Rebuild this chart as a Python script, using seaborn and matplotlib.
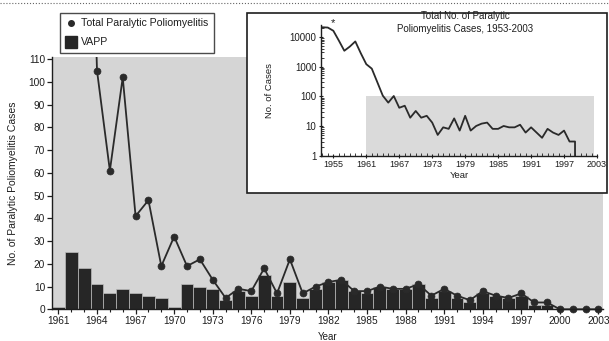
import numpy as np
import pandas as pd
import matplotlib
matplotlib.use("Agg")
import matplotlib.pyplot as plt
import seaborn as sns
from matplotlib.lines import Line2D
from matplotlib.patches import Rectangle
from matplotlib.transforms import Bbox, TransformedBbox
from matplotlib.ticker import MultipleLocator, LogLocator, NullFormatter, FixedLocator, FixedFormatter

# ---------------- data ----------------
years = list(range(1961, 2004))
total_cases = [1200, 850, 300, 105, 61, 102, 41, 48, 19, 32,
               19, 22, 13, 5, 9, 8, 18, 7, 22, 7,
               10, 12, 13, 8, 8, 10, 9, 9, 11, 6,
               9, 6, 4, 8, 6, 5, 7, 3, 3, 0,
               0, 0, 0]
vapp_cases = [1, 25, 18, 11, 7, 9, 7, 6, 5, 1,
              11, 10, 9, 4, 8, 6, 15, 6, 12, 5,
              9, 12, 13, 8, 7, 10, 9, 9, 11, 5,
              8, 5, 3, 7, 6, 5, 6, 2, 2, 0,
              0, 0, 0]
early_years = list(range(1953, 1961))
early_cases = [21000, 20500, 16000, 7500, 3400, 4700, 7000, 2800]

main_xticks = list(range(1961, 2004, 3))
main_yticks = list(range(0, 111, 10))
inset_xticks = list(range(1955, 2004, 6))
inset_yticks = [1, 10, 100, 1000, 10000]
inset_ytick_labels = ["1", "10", "100", "1000", "10000"]

legend_labels = ["Total Paralytic Poliomyelitis", "VAPP"]
inset_title = "Total No. of Paralytic\nPoliomyelitis Cases, 1953-2003"

# ---------------- style ----------------
sns.set_theme(style="ticks")
plt.rcParams['font.family'] = ['Liberation Sans', 'DejaVu Sans']
plt.rcParams['text.color'] = '#1e1e1e'
plt.rcParams['axes.labelcolor'] = '#1e1e1e'
plt.rcParams['xtick.color'] = '#1e1e1e'
plt.rcParams['ytick.color'] = '#1e1e1e'

W, H = 609, 341
fig = plt.figure(figsize=(W / 100, H / 100), dpi=100)
fig.patch.set_facecolor('white')

dark = '#262626'
bg_gray = '#d5d5d5'

# ---------------- main axes ----------------
ax = fig.add_axes([52 / W, (H - 309.3) / H, (603 - 52) / W, 252.3 / H])
ax.set_zorder(0)
ax.set_facecolor(bg_gray)

df = pd.DataFrame({'year': years, 'total': total_cases, 'vapp': vapp_cases})
sns.barplot(data=df, x='year', y='vapp', native_scale=True, width=1.0,
            color=dark, saturation=1, edgecolor='#bdbdbd', linewidth=0.5,
            errorbar=None, ax=ax)
sns.lineplot(data=df, x='year', y='total', color='#2a2a2a', linewidth=1.3,
             marker='o', markersize=5, markeredgecolor='#2a2a2a',
             markeredgewidth=0.5, estimator=None, ax=ax)

clip = TransformedBbox(Bbox([[0, -0.03], [1, 1]]), ax.transAxes)
for ln in ax.lines:
    ln.set_clip_box(clip)

ax.set_xlim(1960.5, 2003.35)
ax.set_ylim(0, 111)
ax.set_xticks(main_xticks)
ax.set_xticklabels([str(y) for y in main_xticks])
ax.xaxis.set_minor_locator(MultipleLocator(1))
ax.set_yticks(main_yticks)
ax.tick_params(axis='both', which='major', labelsize=7.3, length=3.5, width=0.9,
               direction='out', pad=1.5)
ax.tick_params(axis='x', which='minor', length=2.5, width=0.8, direction='out')
for s in ['top', 'right']:
    ax.spines[s].set_visible(False)
for s in ['left', 'bottom']:
    ax.spines[s].set_linewidth(1.0)
    ax.spines[s].set_color('#1e1e1e')
ax.set_xlabel('Year', fontsize=7)
ax.set_ylabel('No. of Paralytic Poliomyelitis Cases', fontsize=7.5)
ax.xaxis.set_label_coords(0.5, -0.088)
ax.yaxis.set_label_coords(-0.062, 0.5)

# legend
handles = [Line2D([], [], marker='o', linestyle='none', color='#2a2a2a', markersize=4),
           Line2D([], [], marker='s', linestyle='none', color=dark, markersize=9)]
leg = fig.legend(handles, legend_labels, loc='upper left',
                 bbox_to_anchor=(60 / W, 1 - 12.5 / H), fontsize=7.6,
                 frameon=True, fancybox=False, edgecolor='#1e1e1e',
                 handlelength=1.0, handletextpad=0.45, borderpad=0.55,
                 labelspacing=0.85, borderaxespad=0)
leg.get_frame().set_linewidth(1.0)
leg.set_zorder(6)

# top dotted scan border
fig.add_artist(Line2D([0, 1], [1 - 3 / H, 1 - 3 / H], transform=fig.transFigure,
                      color='#666666', linestyle=':', linewidth=0.8))

# ---------------- inset ----------------
fig.add_artist(Rectangle((247 / W, 1 - 193 / H), (607 - 247) / W, (193 - 13) / H,
                         transform=fig.transFigure, facecolor='white',
                         edgecolor='#1e1e1e', linewidth=1.2, zorder=1))

ax2 = fig.add_axes([320.7 / W, (H - 155.7) / H, (597 - 320.7) / W, 130.7 / H])
ax2.set_zorder(3)
ax2.set_facecolor('none')

df_in = pd.DataFrame({'year': early_years + years, 'total': early_cases + total_cases})
ax2.fill_between([1961, 2002.5], 1, 100, color='#dadada', linewidth=0, zorder=0)
sns.lineplot(data=df_in, x='year', y='total', color='#2a2a2a', linewidth=1.3,
             estimator=None, ax=ax2)
ax2.set_yscale('log', nonpositive='clip')
ax2.set_xlim(1952.7, 2003)
ax2.set_ylim(1, 25000)
ax2.yaxis.set_major_locator(FixedLocator(inset_yticks))
ax2.yaxis.set_major_formatter(FixedFormatter(inset_ytick_labels))
ax2.yaxis.set_minor_locator(LogLocator(base=10, subs=np.arange(2, 10)))
ax2.yaxis.set_minor_formatter(NullFormatter())
ax2.set_xticks(inset_xticks)
ax2.set_xticklabels([str(y) for y in inset_xticks])
ax2.xaxis.set_minor_locator(MultipleLocator(1))
ax2.tick_params(axis='x', which='major', labelsize=6.5, length=3, width=0.8,
                direction='inout', pad=1.5)
ax2.tick_params(axis='y', which='major', labelsize=7, length=3, width=0.8,
                direction='inout', pad=1.5)
ax2.tick_params(axis='both', which='minor', length=2, width=0.6, direction='in')
for s in ['top', 'right']:
    ax2.spines[s].set_visible(False)
for s in ['left', 'bottom']:
    ax2.spines[s].set_linewidth(1.0)
    ax2.spines[s].set_color('#1e1e1e')
ax2.set_xlabel('Year', fontsize=6.8)
ax2.set_ylabel('No. of Cases', fontsize=6.8)
ax2.xaxis.set_label_coords(0.5, -0.115)
ax2.yaxis.set_label_coords(-0.17, 0.5)
ax2.text(1955, 28000, '*', ha='center', va='center', fontsize=8)

fig.text(465 / W, 1 - 22.5 / H, inset_title, ha='center', va='center',
         fontsize=7, linespacing=1.45, zorder=5)

fig.savefig('out.png', dpi=100)
